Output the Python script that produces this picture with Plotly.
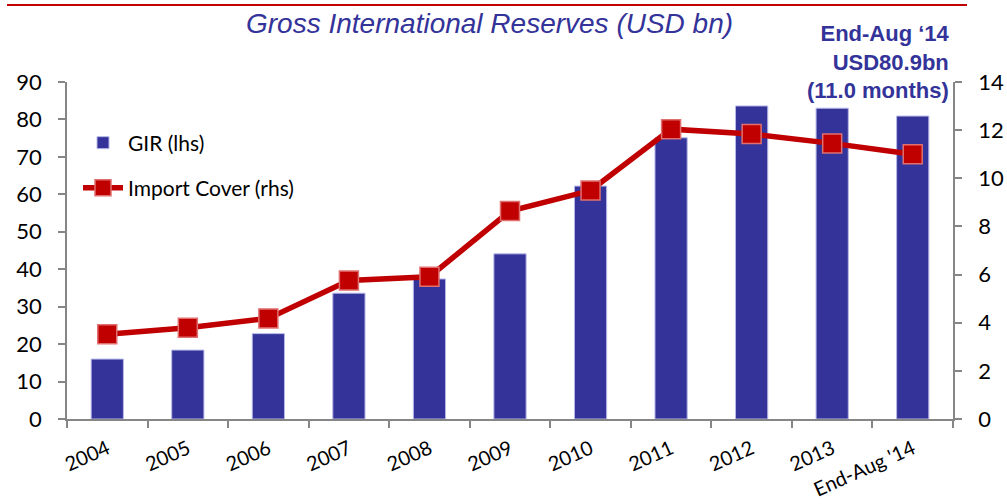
import plotly.graph_objects as go

# Gross international reserves (USD bn) and import cover (months)
periods = ["2004", "2005", "2006", "2007", "2008", "2009", "2010",
           "2011", "2012", "2013", "End-Aug '14"]
gir_usd_bn = [16.0, 18.4, 22.8, 33.6, 37.4, 44.1, 62.2, 75.1, 83.6, 83.0, 80.9]
import_cover_months = [3.52, 3.79, 4.18, 5.75, 5.91, 8.64, 9.49, 12.04, 11.84, 11.45, 11.0]

lhs_ticks = [0, 10, 20, 30, 40, 50, 60, 70, 80, 90]
rhs_ticks = [0, 2, 4, 6, 8, 10, 12, 14]

BLUE = "#333399"
RED = "#C00000"
GREY = "#868686"
TICK_FONT = dict(family="Lato", size=22, color="#000000")

# plot-area geometry in pixels
W, H = 1007, 504
L, R, T, B = 67, 54, 82, 85
PW, PH = W - L - R, H - T - B


def px_x(x):
    return (x - L) / PW


def px_y(y):
    return (H - B - y) / PH


fig = go.Figure()

fig.add_trace(go.Bar(
    x=periods, y=gir_usd_bn, name="GIR (lhs)",
    marker=dict(color=BLUE, line=dict(color="#B8B8E8", width=1)),
    yaxis="y", legend="legend",
))

fig.add_trace(go.Scatter(
    x=periods, y=import_cover_months, name="Import Cover (rhs)",
    mode="lines+markers",
    line=dict(color=RED, width=5.5),
    marker=dict(symbol="square", size=19, color=RED,
                line=dict(color="#E07070", width=1.5)),
    yaxis="y2", legend="legend2",
))

legend_style = dict(
    xanchor="left", yanchor="middle",
    bgcolor="rgba(0,0,0,0)",
    font=dict(family="Lato", size=21, color="#000000"),
    itemwidth=40,
)

axis_common = dict(
    ticks="outside", ticklen=7, tickcolor=GREY, tickwidth=1.5,
    showline=True, linecolor=GREY, linewidth=1.5,
    showgrid=False, automargin=False,
)

fig.update_layout(
    width=W, height=H,
    margin=dict(l=L, r=R, t=T, b=B, autoexpand=False),
    paper_bgcolor="white", plot_bgcolor="white",
    bargap=0.6,
    showlegend=True,
    legend=dict(x=px_x(78), y=px_y(143), **legend_style),
    legend2=dict(x=px_x(78), y=px_y(188), **legend_style),
    xaxis=dict(
        type="category",
        range=[-0.5, len(periods) - 0.5],
        domain=[0, 1],
        tickson="boundaries",
        tickangle=-24,
        ticklabelstandoff=9,
        tickfont=dict(family="Lato", size=20, color="#000000"),
        **axis_common,
    ),
    yaxis=dict(
        range=[0, 90], tickvals=lhs_ticks, zeroline=False,
        ticklabelstandoff=12,
        tickfont=TICK_FONT,
        **axis_common,
    ),
    yaxis2=dict(
        range=[0, 14], tickvals=rhs_ticks, zeroline=False,
        overlaying="y", side="right", anchor="x",
        ticklabelstandoff=12,
        tickfont=TICK_FONT,
        **axis_common,
    ),
    annotations=[
        dict(
            text="<i>Gross International Reserves (USD bn)</i>",
            xref="paper", yref="paper", x=px_x(489), y=px_y(23),
            xanchor="center", yanchor="middle",
            showarrow=False,
            font=dict(family="Liberation Sans", size=28, color=BLUE),
        ),
        dict(
            text="<b>End-Aug \u201814</b><br><b>USD80.9bn</b><br><b>(11.0 months)</b>",
            xref="paper", yref="paper", x=px_x(952), y=px_y(62),
            xanchor="right", yanchor="middle", align="right",
            showarrow=False,
            font=dict(family="Liberation Sans", size=22, color=BLUE),
        ),
    ],
    shapes=[
        dict(type="line", xref="paper", yref="paper",
             x0=px_x(7), x1=px_x(967), y0=px_y(5), y1=px_y(5),
             line=dict(color=RED, width=2)),
    ],
)

fig.write_html("out.html")
